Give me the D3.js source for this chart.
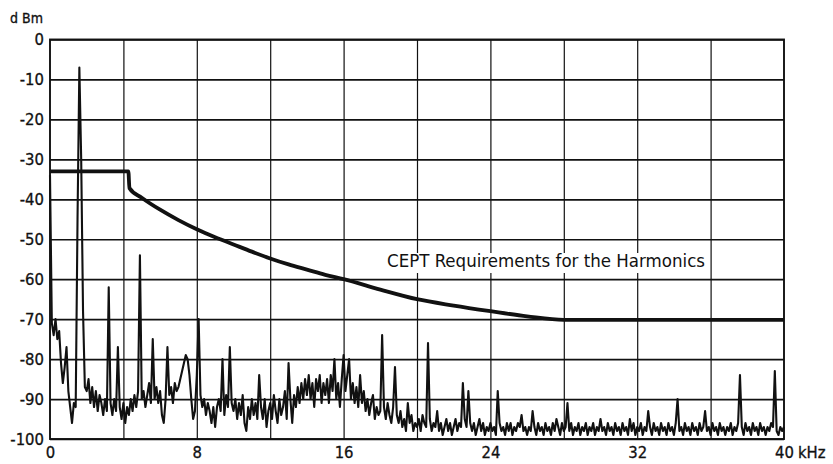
<!DOCTYPE html>
<html>
<head>
<meta charset="utf-8">
<script src="https://cdn.jsdelivr.net/npm/d3@7"></script>
<style>
  html, body { margin: 0; padding: 0; background: #fff; }
  svg { display: block; }
  text { font-family: "DejaVu Sans Condensed", "Liberation Sans Narrow", "DejaVu Sans", sans-serif; fill: #111; }
</style>
</head>
<body>
<svg id="chart" width="833" height="464"></svg>
<script>
// ---------------- data ----------------
const xLabelTicks = [0, 8, 16, 24, 32, 40];
const xGridTicks = [4, 8, 12, 16, 20, 24, 28, 32, 36];
const yTicks = [0, -10, -20, -30, -40, -50, -60, -70, -80, -90, -100];
const xUnit = "kHz";
const yUnit = "d Bm";
const limitLabel = "CEPT  Requirements for the Harmonics";

// CEPT limit line
const ceptKHz  = [0, 4.27, 4.33, 5, 6, 7, 8, 9, 10, 11, 12, 13, 14, 15, 16, 18, 20, 22, 24, 26, 28, 40];
const ceptDbm  = [-33, -33, -37.2, -39.6, -42.6, -45.2, -47.5, -49.5, -51.3, -53.1, -54.8, -56.3, -57.6, -58.9, -60, -62.6, -65, -66.6, -68, -69.3, -70.2, -70.2];

const traceStepKHz = 0.1;
const traceLevels = [
  -34, -71, -74, -70, -75, -73, -81, -86, -82, -77,   // 0
  -88, -92, -96, -91, -92, -45, -7, -30, -68, -87,    // 1
  -88, -85, -91, -87, -92, -88, -93, -89, -91, -94,   // 2
  -90, -93, -62, -91, -94, -90, -93, -77, -92, -95,   // 3
  -91, -96, -92, -94, -90, -93, -89, -92, -88, -54,   // 4
  -90, -88, -92, -89, -86, -91, -75, -90, -87, -91,   // 5
  -88, -94, -96, -90, -77, -89, -87, -91, -86, -88,   // 6
  -87, -85, -83, -81, -79, -80, -84, -90, -95, -93,   // 7
  -84, -70, -89, -92, -90, -94, -91, -93, -96, -92,   // 8
  -97, -92, -90, -93, -80, -94, -89, -92, -77, -91,   // 9
  -93, -90, -95, -91, -94, -89, -96, -98, -92, -95,   // 10
  -90, -94, -91, -95, -84, -92, -95, -90, -97, -93,   // 11
  -91, -95, -89, -93, -96, -90, -94, -92, -88, -95,   // 12
  -81, -90, -96, -89, -92, -87, -91, -86, -90, -85,   // 13
  -89, -84, -90, -86, -92, -85, -88, -84, -91, -86,   // 14
  -89, -85, -91, -84, -88, -80, -90, -86, -92, -85,   // 15
  -79, -88, -84, -80, -90, -86, -91, -87, -92, -84,   // 16
  -91, -88, -93, -90, -94, -91, -89, -95, -92, -94,   // 17
  -93, -74, -92, -95, -91, -94, -96, -92, -82, -94,   // 18
  -96, -93, -97, -95, -98, -91, -96, -94, -98, -96,   // 19
  -97, -95, -98, -94, -96, -97, -76, -95, -98, -96,   // 20
  -97, -93, -98, -96, -99, -97, -95, -98, -96, -99,   // 21
  -97, -95, -98, -96, -97, -86, -95, -97, -88, -96,   // 22
  -98, -96, -99, -97, -95, -98, -96, -99, -97, -98,   // 23
  -96, -98, -97, -99, -88, -96, -98, -97, -99, -96,   // 24
  -98, -96, -99, -97, -98, -96, -97, -94, -98, -97,   // 25
  -99, -97, -98, -93, -97, -99, -96, -98, -97, -99,   // 26
  -96, -98, -97, -99, -96, -98, -95, -97, -99, -96,   // 27
  -98, -97, -91, -98, -96, -99, -97, -98, -96, -99,   // 28
  -97, -98, -96, -99, -97, -98, -96, -99, -97, -98,   // 29
  -95, -98, -97, -99, -96, -98, -97, -99, -96, -98,   // 30
  -97, -99, -96, -98, -97, -99, -95, -98, -96, -99,   // 31
  -97, -98, -96, -99, -97, -98, -93, -97, -99, -96,   // 32
  -98, -97, -99, -96, -98, -97, -99, -96, -98, -97,   // 33
  -99, -96, -90, -98, -97, -99, -96, -98, -97, -99,   // 34
  -96, -98, -97, -99, -96, -98, -97, -93, -98, -97,   // 35
  -99, -96, -98, -97, -99, -96, -98, -97, -99, -97,   // 36
  -98, -96, -99, -97, -98, -96, -84, -97, -99, -96,   // 37
  -98, -97, -99, -96, -98, -97, -99, -96, -98, -97,   // 38
  -99, -97, -98, -96, -97, -83, -98, -99, -97, -98,   // 39
  -97                                                 // 40
];

// ---------------- chart ----------------
const svg = d3.select("#chart");
const L = 50, R = 784, T = 39.5, B = 439;
const x = d3.scaleLinear().domain([0, 40]).range([L, R]);
const y = d3.scaleLinear().domain([-100, 0]).range([B, T]);
const ink = "#111";
const labelFont = '"DejaVu Sans Condensed", "Liberation Sans Narrow", sans-serif';

// grid: vertical lines
svg.append("g")
  .attr("transform", `translate(0,${B})`)
  .call(d3.axisBottom(x).tickValues(xGridTicks).tickSize(-(B - T)).tickFormat(""))
  .call(g => g.select(".domain").remove())
  .call(g => g.selectAll("line").attr("stroke", ink).attr("stroke-width", 1.2));

// grid: horizontal lines
svg.append("g")
  .attr("transform", `translate(${L},0)`)
  .call(d3.axisLeft(y).tickValues(yTicks).tickSize(-(R - L)).tickFormat(""))
  .call(g => g.select(".domain").remove())
  .call(g => g.selectAll("line").attr("stroke", ink).attr("stroke-width", 1.7));

// frame
svg.append("rect")
  .attr("x", L).attr("y", T).attr("width", R - L).attr("height", B - T)
  .attr("fill", "none").attr("stroke", ink).attr("stroke-width", 1.9);

// y tick labels
svg.append("g")
  .attr("transform", `translate(${L},0)`)
  .call(d3.axisLeft(y).tickValues(yTicks).tickSize(0).tickPadding(6).tickFormat(d => d === 0 ? "0" : "-" + Math.abs(d)))
  .call(g => g.select(".domain").remove())
  .call(g => g.selectAll("text").style("font-size", "16.5px").attr("fill", ink)
      .style("font-family", labelFont).attr("stroke", ink).attr("stroke-width", 0.3));

// x tick labels
svg.append("g")
  .attr("transform", `translate(0,${B})`)
  .call(d3.axisBottom(x).tickValues(xLabelTicks).tickSize(0).tickPadding(7).tickFormat(d3.format("d")))
  .call(g => g.select(".domain").remove())
  .call(g => g.selectAll("text").style("font-size", "16.5px").attr("fill", ink)
      .style("font-family", labelFont).attr("stroke", ink).attr("stroke-width", 0.3));

// unit labels
svg.append("text").attr("x", x(40) + 14).attr("y", 458)
  .style("font-size", "16.5px").attr("stroke", ink).attr("stroke-width", 0.3).text(xUnit);
svg.append("text").attr("x", 10).attr("y", 23)
  .style("font-size", "14px").attr("stroke", ink).attr("stroke-width", 0.3).text(yUnit);

// measured spectrum
const tracePts = traceLevels.map((v, i) => [i * traceStepKHz, v]);
svg.append("path")
  .datum(tracePts)
  .attr("fill", "none").attr("stroke", ink).attr("stroke-width", 2.1)
  .attr("stroke-linejoin", "round")
  .attr("d", d3.line().x(d => x(d[0])).y(d => y(d[1])));

// CEPT limit
const ceptPts = ceptKHz.map((k, i) => [k, ceptDbm[i]]);
svg.append("path")
  .datum(ceptPts)
  .attr("fill", "none").attr("stroke", ink).attr("stroke-width", 3.8)
  .attr("d", d3.line().curve(d3.curveMonotoneX).x(d => x(d[0])).y(d => y(d[1])));

// label with white backing
svg.append("rect").attr("x", 381).attr("y", 253).attr("width", 327).attr("height", 20).attr("fill", "#fff");
svg.append("text").attr("x", 387).attr("y", 267)
  .style("font-size", "17px")
  .attr("textLength", 318).attr("lengthAdjust", "spacingAndGlyphs")
  .text(limitLabel);
</script>
</body>
</html>
